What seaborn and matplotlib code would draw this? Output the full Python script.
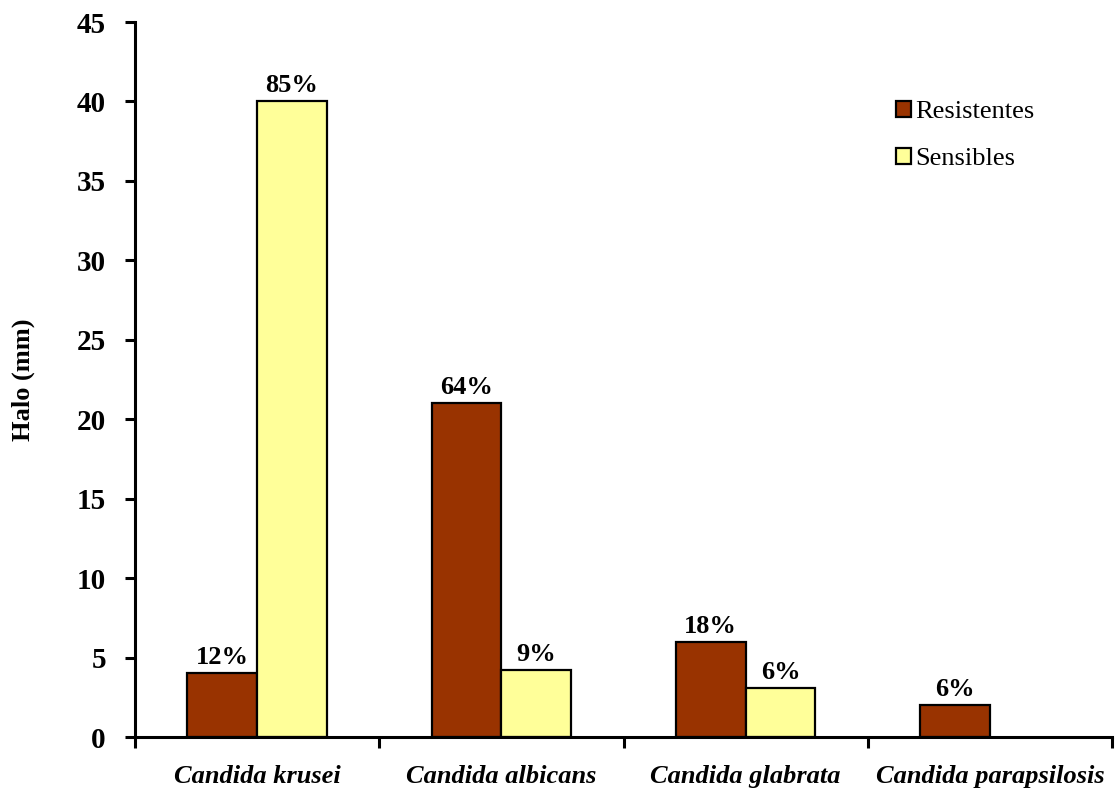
import matplotlib
matplotlib.use("Agg")
import matplotlib.pyplot as plt
import seaborn as sns
import pandas as pd
import numpy as np

species = ["Candida krusei", "Candida albicans", "Candida glabrata", "Candida parapsilosis"]
groups = ["Resistentes", "Sensibles"]
resistentes = [4, 21, 6, 2]
sensibles = [40, 4.2, 3.1, 0]
pct_resistentes = ["12%", "64%", "18%", "6%"]
pct_sensibles = ["85%", "9%", "6%"]
colors = {"Resistentes": "#993300", "Sensibles": "#FFFF99"}

df = pd.DataFrame({
    "especie": species * 2,
    "grupo": [groups[0]] * len(species) + [groups[1]] * len(species),
    "halo": resistentes + sensibles,
})
# no bar is drawn for an empty group
df = df[df["halo"] > 0]

sns.set_theme(style="white")
plt.rcParams["font.family"] = ["Liberation Serif", "DejaVu Serif"]
plt.rcParams["text.color"] = "black"
plt.rcParams["axes.labelcolor"] = "black"
plt.rcParams["xtick.color"] = "black"
plt.rcParams["ytick.color"] = "black"

fig = plt.figure(figsize=(11.18, 7.92), dpi=100)
ax = fig.add_axes([0.1208, 0.0694, 0.8738, 0.9028])

sns.barplot(data=df, x="especie", y="halo", hue="grupo", order=species,
            hue_order=groups, palette=colors, width=0.571, dodge=True,
            edgecolor="black", linewidth=1.6, saturation=1, ax=ax)

labels = {"Resistentes": pct_resistentes, "Sensibles": pct_sensibles}
for cont, g in zip(ax.containers, groups):
    ax.bar_label(cont, labels=labels[g], padding=3, fontsize=19,
                 fontweight="bold", color="black")

ax.set_ylim(0, 45)
ax.set_xlim(-0.5, len(species) - 0.5)
ax.set_yticks(np.arange(0, 46, 5))
ax.set_ylabel("Halo (mm)", fontsize=19, fontweight="bold", labelpad=30)
ax.set_xlabel("")

for s in ["top", "right"]:
    ax.spines[s].set_visible(False)
for s in ["left", "bottom"]:
    ax.spines[s].set_color("black")
    ax.spines[s].set_linewidth(2.2)

ax.tick_params(axis="y", left=True, direction="out", length=7, width=2.2,
               color="black", labelsize=21, pad=14)
for t in ax.get_yticklabels():
    t.set_fontweight("bold")

ax.set_xticks(np.arange(len(species)))
ax.set_xticklabels(species, fontsize=19, fontweight="bold", fontstyle="italic")
ax.tick_params(axis="x", which="major", bottom=True, length=0, pad=20)
ax.set_xticks(np.arange(-0.5, len(species)), minor=True)
ax.tick_params(axis="x", which="minor", bottom=True, direction="out",
               length=8, width=2.2, color="black")

leg = ax.legend(loc="upper left", bbox_to_anchor=(0.755, 0.923), frameon=False,
                fontsize=19, handlelength=0.55, handleheight=0.55,
                handletextpad=0.15, labelspacing=0.95)

fig.savefig("out.png", dpi=100)
